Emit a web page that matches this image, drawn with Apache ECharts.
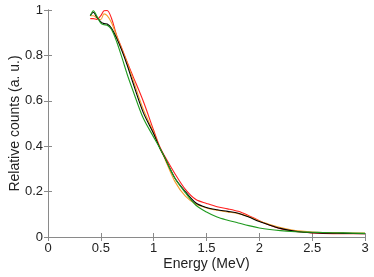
<!DOCTYPE html>
<html><head><meta charset="utf-8">
<script src="https://cdn.jsdelivr.net/npm/echarts@6/dist/echarts.min.js"></script>
<style>html,body{margin:0;padding:0;background:#fff}#c{width:374px;height:277px}</style>
</head><body><div id="c"></div>
<script>
var energies = [0.40,0.43,0.46,0.50,0.53,0.56,0.60,0.65,0.70,0.75,0.80,0.90,1.00,1.06,1.10,1.20,1.30,1.40,1.50,1.60,1.70,1.80,1.90,2.00,2.10,2.20,2.30,2.40,2.50,2.60,2.80,3.00];
var redCounts = [0.962,0.962,0.958,0.975,0.997,0.998,0.965,0.888,0.830,0.770,0.713,0.600,0.470,0.395,0.360,0.280,0.210,0.165,0.148,0.133,0.124,0.113,0.094,0.072,0.052,0.037,0.028,0.022,0.018,0.016,0.015,0.015];
var orangeCounts = [0.975,0.975,0.965,0.958,0.983,0.975,0.945,0.885,0.825,0.765,0.700,0.565,0.460,0.390,0.350,0.245,0.180,0.145,0.128,0.118,0.110,0.103,0.090,0.070,0.055,0.042,0.032,0.026,0.022,0.020,0.018,0.017];
var blackCounts = [0.975,0.990,0.970,0.948,0.940,0.938,0.920,0.875,0.820,0.756,0.685,0.550,0.455,0.390,0.355,0.260,0.200,0.150,0.130,0.120,0.113,0.105,0.088,0.068,0.052,0.038,0.028,0.022,0.019,0.017,0.016,0.015];
var greenCounts = [0.975,0.997,0.975,0.942,0.935,0.933,0.915,0.860,0.790,0.716,0.650,0.525,0.440,0.390,0.355,0.260,0.195,0.140,0.110,0.088,0.074,0.062,0.050,0.040,0.033,0.028,0.024,0.022,0.021,0.020,0.018,0.016];
var xTicks = [0,0.5,1,1.5,2,2.5,3];
var yTicks = [0,0.2,0.4,0.6,0.8,1];

function pairs(ys){ return energies.map(function(x,i){ return [x, ys[i]]; }); }
var font = 'Liberation Sans, Arial, sans-serif';
var axisCol = '#8a8a8a';
function mk(name, ys, color){
  return {name:name, type:'line', data:pairs(ys), smooth:0.3, showSymbol:false,
    lineStyle:{color:color, width:1.1}, itemStyle:{color:color}, animation:false, z:2};
}
var chart = echarts.init(document.getElementById('c'), null, {renderer:'canvas'});
chart.setOption({
  animation:false,
  grid:{left:48, right:9, top:10, bottom:40, containLabel:false, outerBoundsMode:'none'},
  xAxis:[{
    type:'value', min:0, max:3, interval:0.5, position:'bottom',
    name:'Energy (MeV)', nameLocation:'middle', nameGap:20, nameMoveOverlap:false,
    nameTextStyle:{fontFamily:font, fontSize:14, color:'#222'},
    axisLine:{show:true, lineStyle:{color:axisCol, width:1}},
    axisTick:{show:true, inside:true, length:4, lineStyle:{color:axisCol}},
    axisLabel:{fontFamily:font, fontSize:13, color:'#222', margin:5,
      formatter:function(v){ return xTicks.indexOf(v) >= 0 ? String(v) : ''; }},
    splitLine:{show:false}
  },{
    type:'value', min:0, max:3, interval:0.5, position:'top',
    axisLine:{show:true, lineStyle:{color:axisCol, width:1}},
    axisTick:{show:true, inside:true, length:4, lineStyle:{color:axisCol}},
    axisLabel:{show:false}, splitLine:{show:false}
  }],
  yAxis:[{
    type:'value', min:0, max:1, interval:0.2, position:'left',
    name:'Relative counts (a. u.)', nameLocation:'middle', nameGap:26, nameMoveOverlap:false,
    nameTextStyle:{fontFamily:font, fontSize:14, color:'#222'},
    axisLine:{show:true, lineStyle:{color:axisCol, width:1}},
    axisTick:{show:true, inside:true, length:4, lineStyle:{color:axisCol}},
    axisLabel:{fontFamily:font, fontSize:13, color:'#222', margin:5,
      formatter:function(v){ var r = Math.round(v*10)/10; return yTicks.indexOf(r) >= 0 ? String(r) : ''; }},
    splitLine:{show:false}
  },{
    type:'value', min:0, max:1, interval:0.2, position:'right',
    axisLine:{show:true, lineStyle:{color:axisCol, width:1}},
    axisTick:{show:true, inside:true, length:4, lineStyle:{color:axisCol}},
    axisLabel:{show:false}, splitLine:{show:false}
  }],
  series:[
    mk('red', redCounts, '#ff2020'),
    mk('orange', orangeCounts, '#f5a030'),
    mk('black', blackCounts, '#000000'),
    mk('green', greenCounts, '#1f9a1f')
  ]
});
</script></body></html>
